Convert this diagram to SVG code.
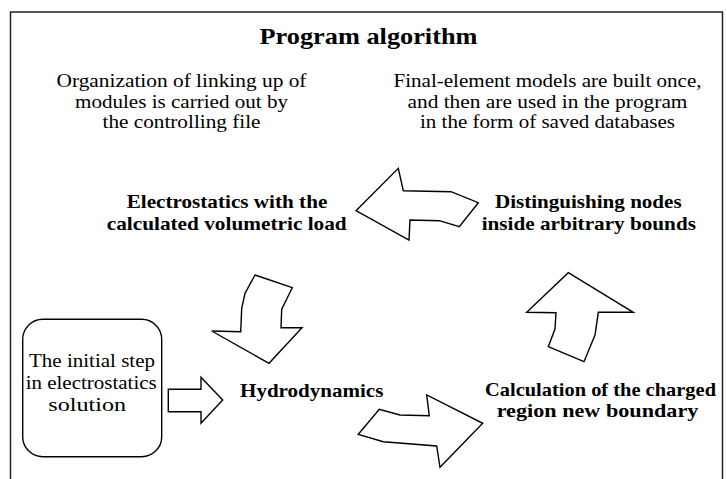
<svg xmlns="http://www.w3.org/2000/svg" width="727" height="479" viewBox="0 0 727 479">
<style>
text{font-family:"Liberation Serif",Tinos,"Times New Roman",Times,"Nimbus Roman","FreeSerif",serif;fill:#000;text-anchor:middle;font-size:19px}
.b{font-weight:bold}
.t{font-size:23px;font-weight:bold}
.sh{fill:#fff;stroke:#000;stroke-width:1.4;stroke-linejoin:miter}
</style>
<rect x="0" y="0" width="727" height="479" fill="#fff"/>
<rect x="10.5" y="12" width="712" height="480" fill="none" stroke="#222" stroke-width="1.5"/>
<g id="title"><text class="t" x="368.5" y="44" textLength="218" lengthAdjust="spacingAndGlyphs">Program algorithm</text></g>
<g id="note-left">
<text x="181.5" y="87" textLength="250" lengthAdjust="spacingAndGlyphs">Organization of linking up of</text>
<text x="181.5" y="107.5" textLength="213" lengthAdjust="spacingAndGlyphs">modules is carried out by</text>
<text x="181.5" y="128" textLength="158" lengthAdjust="spacingAndGlyphs">the controlling file</text>
</g>
<g id="note-right">
<text x="547.5" y="87" textLength="308" lengthAdjust="spacingAndGlyphs">Final-element models are built once,</text>
<text x="547.5" y="107.5" textLength="280" lengthAdjust="spacingAndGlyphs">and then are used in the program</text>
<text x="547.5" y="128" textLength="255" lengthAdjust="spacingAndGlyphs">in the form of saved databases</text>
</g>
<g id="electrostatics">
<text class="b" x="227" y="208" textLength="200.7" lengthAdjust="spacingAndGlyphs">Electrostatics with the</text>
<text class="b" x="226.7" y="229.5" textLength="240" lengthAdjust="spacingAndGlyphs">calculated volumetric load</text>
</g>
<g id="distinguishing">
<text class="b" x="588.3" y="208" textLength="186.7" lengthAdjust="spacingAndGlyphs">Distinguishing nodes</text>
<text class="b" x="588.8" y="229.5" textLength="214.3" lengthAdjust="spacingAndGlyphs">inside arbitrary bounds</text>
</g>
<g id="initial">
<rect x="22.7" y="319.3" width="139" height="137.4" rx="20" ry="20" fill="#fff" stroke="#000" stroke-width="1.4"/>
<text x="92" y="366.5" textLength="126" lengthAdjust="spacingAndGlyphs">The initial step</text>
<text x="91.2" y="388.5" textLength="131" lengthAdjust="spacingAndGlyphs">in electrostatics</text>
<text x="87.2" y="410.5" textLength="77.7" lengthAdjust="spacingAndGlyphs">solution</text>
</g>
<g id="hydrodynamics"><text class="b" x="311.7" y="397" textLength="143.3" lengthAdjust="spacingAndGlyphs">Hydrodynamics</text></g>
<g id="boundary">
<text class="b" x="600.5" y="395.5" textLength="231" lengthAdjust="spacingAndGlyphs">Calculation of the charged</text>
<text class="b" x="597.5" y="417" textLength="201.7" lengthAdjust="spacingAndGlyphs">region new boundary</text>
</g>
<g id="connectors">
<polygon class="sh" points="168.3,389.3 201,389.3 201,377.3 222.7,400 201,423.3 201,411.7 168.3,411.7"/>
<polygon class="sh" points="356,210.7 398.3,168.3 403.3,190.7 451,191.7 478.3,202.7 459.3,226.7 439.3,220.7 410,220 409,240"/>
<polygon class="sh" points="255,275 292.3,287.7 281.7,309.3 281,327.7 302,327.7 269,363.3 211.7,331 240.7,331.7 241.7,308.3 245,293.3"/>
<polygon class="sh" points="568.3,272.7 633.3,312.3 598.3,312.3 595,335 584,361.7 548.3,346.7 555,329 556,312.7 526.7,312.3"/>
<polygon class="sh" points="358.3,434.3 379.3,409.3 400,415 429.3,415.7 426.7,395 482.7,423.3 440,467.3 436.7,446 383.3,441.7"/>
</g>
</svg>
